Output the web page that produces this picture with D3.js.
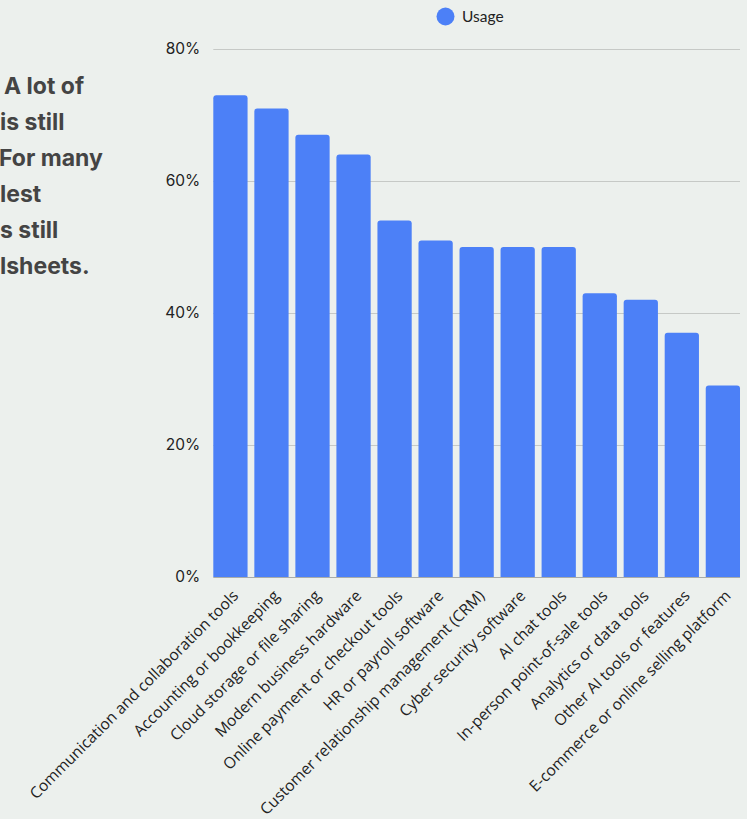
<!DOCTYPE html>
<html><head><meta charset="utf-8">
<script src="https://cdn.jsdelivr.net/npm/d3@7"></script>
<style>
html,body{margin:0;padding:0;background:#ECF0ED;overflow:hidden;}
svg{display:block;}
</style></head>
<body>
<svg id="chart" width="747" height="819"></svg>
<script>
const categories = [
  "Communication and collaboration tools",
  "Accounting or bookkeeping",
  "Cloud storage or file sharing",
  "Modern business hardware",
  "Online payment or checkout tools",
  "HR or payroll software",
  "Customer relationship management (CRM)",
  "Cyber security software",
  "AI chat tools",
  "In-person point-of-sale tools",
  "Analytics or data tools",
  "Other AI tools or features",
  "E-commerce or online selling platform"
];
const usage = [73, 71, 67, 64, 54, 51, 50, 50, 50, 43, 42, 37, 29];
const yTicks = [0, 20, 40, 60, 80];
const seriesName = "Usage";
const sideText = ["A lot of", "is still", "For many", "lest", "s still", "lsheets."];

(function(){
const svg = d3.select("#chart");
const font = "Lato, 'Open Sans', sans-serif";
const labelFont = "'Open Sans', sans-serif";
const pLeft = 213.3, pRight = 740, pTop = 49, pBottom = 577;

const x = d3.scaleBand().domain(categories).range([pLeft, pRight]).paddingInner(0.165).paddingOuter(0);
const y = d3.scaleLinear().domain([0, 80]).range([pBottom, pTop]);

// side text
svg.append("g").selectAll("text").data(sideText).join("text")
  .attr("x", (d,i) => i === 0 ? 4 : (i === 2 ? -1 : 0))
  .attr("y", (d,i) => 94 + i * 36)
  .attr("font-family", "Inter, sans-serif").attr("font-weight", 700).attr("font-size", 23)
  .attr("fill", "#444444").text(d => d);

// gridlines
svg.append("g").selectAll("line").data(yTicks).join("line")
  .attr("x1", pLeft).attr("x2", pRight)
  .attr("y1", d => y(d) + 0.5).attr("y2", d => y(d) + 0.5)
  .attr("stroke", d => d === 0 ? "#a9aca9" : "#c6c9c6").attr("stroke-width", 1);

// y axis labels
const yAxis = d3.axisLeft(y).tickValues(yTicks).tickFormat(d => d + "%").tickSize(0).tickPadding(13);
const ya = svg.append("g").attr("transform", `translate(${pLeft},0)`).call(yAxis);
ya.select(".domain").remove();
ya.selectAll("text").attr("font-family", "Inter, sans-serif").attr("font-size", 15.5).attr("fill", "#222222");

// bars with rounded top
const r = 3;
svg.append("g").selectAll("path").data(categories).join("path")
  .attr("d", (d,i) => {
    const x0 = x(d), w = x.bandwidth(), y0 = y(usage[i]), y1 = y(0);
    return `M${x0},${y1}V${y0 + r}Q${x0},${y0} ${x0 + r},${y0}H${x0 + w - r}Q${x0 + w},${y0} ${x0 + w},${y0 + r}V${y1}Z`;
  })
  .attr("fill", "#4C80F7");

// x axis labels
const xAxis = d3.axisBottom(x).tickSize(0).tickPadding(0);
const xa = svg.append("g").attr("transform", `translate(0,${pBottom})`).call(xAxis);
xa.select(".domain").remove();
xa.selectAll("text")
  .attr("font-family", labelFont).attr("font-size", 15.6).attr("fill", "#222222")
  .attr("text-anchor", "end")
  .attr("transform", "translate(5,16) rotate(-45)")
  .attr("dy", "0.35em").attr("y", 0).attr("x", 0);

// legend
const lg = svg.append("g");
lg.append("circle").attr("cx", 445.5).attr("cy", 16.5).attr("r", 9).attr("fill", "#4C80F7");
lg.append("text").attr("x", 462).attr("y", 22).attr("font-family", font).attr("font-size", 15.5)
  .attr("fill", "#222222").text(seriesName);
})();
</script>
</body></html>
